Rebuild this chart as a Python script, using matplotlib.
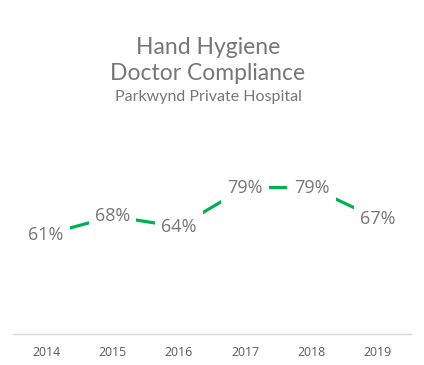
import matplotlib

matplotlib.use("Agg")
import matplotlib.pyplot as plt

years = ["2014", "2015", "2016", "2017", "2018", "2019"]
compliance = [61, 68, 64, 79, 79, 67]

GREEN = "#00b050"
GREY = "#767676"
TITLE_FONT = ["Lato", "DejaVu Sans"]
LABEL_FONT = ["Open Sans", "DejaVu Sans"]

fig = plt.figure(figsize=(4.24, 3.65), dpi=100)
ax = fig.add_axes([13 / 424, 1 - 334 / 365, 398 / 424, 204 / 365])

x = list(range(len(years)))
ax.plot(x, compliance, color=GREEN, lw=2.3, solid_capstyle="butt", zorder=2)
for xi, v in zip(x, compliance):
    ax.text(xi, v, f"{v}%", ha="center", va="center", fontsize=13, color=GREY,
            family=LABEL_FONT, zorder=3,
            bbox=dict(boxstyle="square,pad=0.35", fc="white", ec="none"))

ax.set_xlim(-0.5, len(years) - 0.5)
ax.set_ylim(23, 101)
ax.set_xticks(x)
ax.set_xticklabels(years, fontsize=8.8, color="#595959", family=LABEL_FONT)
ax.tick_params(axis="x", length=0, pad=9)
ax.set_yticks([])
for side in ["left", "right", "top"]:
    ax.spines[side].set_visible(False)
ax.spines["bottom"].set_color("#d9d9d9")
ax.spines["bottom"].set_linewidth(1)

title_x = 208 / 424
fig.text(title_x, 1 - 47 / 365, "Hand Hygiene", ha="center", va="center",
         fontsize=16.5, color=GREY, family=TITLE_FONT)
fig.text(title_x, 1 - 74 / 365, "Doctor Compliance", ha="center", va="center",
         fontsize=16.5, color=GREY, family=TITLE_FONT)
fig.text(title_x, 1 - 97 / 365, "Parkwynd Private Hospital", ha="center", va="center",
         fontsize=11.5, color=GREY, family=TITLE_FONT)

fig.savefig("out.png", dpi=100)
